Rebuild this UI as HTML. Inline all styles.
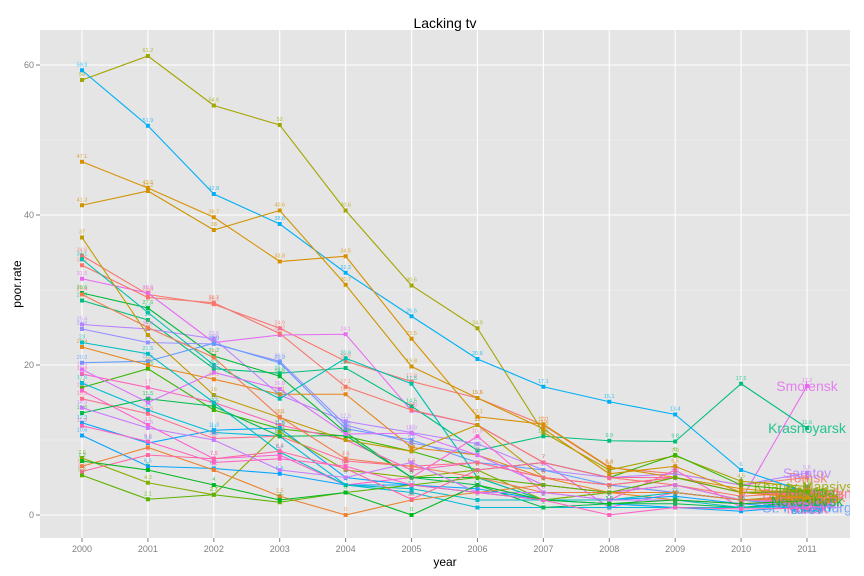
<!DOCTYPE html>
<html><head><meta charset="utf-8"><style>
body{margin:0;background:#fff;}
svg{display:block;font-family:"Liberation Sans",sans-serif;}
</style></head><body>
<svg id="chart" width="864" height="576">
<defs><clipPath id="pc"><rect x="40" y="30" width="810" height="508"/></clipPath></defs>
<rect x="40" y="30" width="810" height="508" fill="#E5E5E5"/>
<g id="grid"></g>
<g id="marks" clip-path="url(#pc)"></g>
<g id="axes"></g>
<text x="445" y="28" text-anchor="middle" font-size="14" fill="#000">Lacking tv</text>
<text x="445" y="566" text-anchor="middle" font-size="12" fill="#000">year</text>
<text x="21" y="284" text-anchor="middle" font-size="12" fill="#000" transform="rotate(-90 21 284)">poor.rate</text>
</svg>
<script>
const years = [2000,2001,2002,2003,2004,2005,2006,2007,2008,2009,2010,2011];
const yTicks = [0,20,40,60];
const regionNames = ["Tomsk","Smolensk","Krasnoyarsk","Saratov","Khanty-Mansiysk","Volgograd","Perm","Penza","Krasnodar","Tver","Moscow","Stavropol","St. Petersburg","Samara","Omsk","Kursk","Ryazan","Tula","Kaluga","Orel","Ulyanovsk","Rostov","Chelyabinsk","Kirov","Vologda","Altai","Tatarstan","Bashkortostan","Udmurtia","Chuvashia","Novosibirsk","Irkutsk","Kemerovo"];
const regionColors = ["#F8766D","#E76BF3","#00BF7D","#B983FF","#A3A500","#F8766D","#00B0F6","#39B600","#00BA38","#D89000","#FF62BC","#9590FF","#619CFF","#E7861B","#00C0AF","#FD61D1","#00A9FF","#00BCD8","#C09B00","#FF6C91","#85AD00","#00BB4E","#F17E4E","#06A4FF","#DC71FA","#00BFC4","#EA8331","#FF67A4","#5BB300","#C77CFF","#00B81F","#FF61C3","#CF9400"];
const seriesValues = [
 [34.6,29.4,28.1,24.9,20.5,17.8,15.6,12,6.3,5.5,4,5],
 [31.5,29.6,23,24,24.1,13.9,12,7,1,3,2,17.2],
 [28.6,26,19.5,18.9,19.6,14.5,8.6,10.5,9.9,9.8,17.5,11.6],
 [25.4,24.8,23.5,16,12.5,11,9.5,6,5,5.5,4,5.6],
 [58,61.2,54.6,52,40.6,30.6,24.9,11,6,7.9,4.5,3.8],
 [33.3,29,28.3,24.2,17.1,14,12,7,5,4,2.5,3],
 [59.3,51.9,42.8,38.8,32.3,26.5,20.8,17.1,15.1,13.4,6,3],
 [17,19.5,14,11.5,10.5,8.5,6,7,5,8,4,3.2],
 [29.6,27.6,21.2,18.5,11,5,5,2,3,3,2,2.5],
 [47.1,43.6,39.7,33.8,34.5,23.5,13.1,12.1,6.4,5,3.5,2.8],
 [18.8,17,15,12,10,6,7,5,4,3,2,2],
 [24.8,23,22.8,20.5,12,9.6,8,4,3,3,2,1.5],
 [20.3,20.5,22.9,20.3,11.5,10,7,6,4,3,2,1],
 [22.4,20,18.1,16.1,16.1,9,8,5,3,2,1.5,2],
 [34.1,27,20,15.5,20.9,17.5,5,2,2,3,2,2.2],
 [16.6,12,7.5,8,4,5,10.5,3,2,6,1,1.5],
 [12.3,9.6,11.3,11.6,5,4,3,2,1.5,1,0.5,1.2],
 [17.6,14,11,10.5,4,3,1,1,1,1,1,1.3],
 [37,24,16,13,10,8.5,12,5,4,5,3,3.3],
 [15.5,13.5,10.2,10.5,7.2,6.5,7,5,4,5,3,2.6],
 [7.6,4.3,2.7,11.1,6,5,6,2,3,4,2,2.7],
 [13.6,15.5,14.5,10.5,10.6,5,4,1,1.5,1.5,1,1.8],
 [29.4,25,21,13.1,7.5,6.5,5,3,3,4,2,2.4],
 [10.6,6.5,6.2,5.5,4,4,3.5,2,2,2.5,1.5,0.8],
 [19.4,15,19,16.8,10.8,10.9,8,4,3,4,2,1.7],
 [23,21.5,15,8.4,4,3.5,2,2,2,2,1,1.1],
 [6.5,9,6,2.5,0,2,3,4,3,3,2,2.1],
 [5.8,8,7.5,8.5,6.2,2.1,6,7,5,5,3,2.9],
 [5.3,2.1,2.7,1.7,3,4,5,4,3,5,3,3.1],
 [14.3,11.6,10,6,5,7,3,3,2,2,1.5,1.6],
 [7.2,6,4,2,3,0,4,2,1.5,2,1.5,1.9],
 [11.9,9.8,7,7.5,6.5,4,3,2,0,1,0.8,0.9],
 [41.3,43.2,38,40.6,30.7,19.8,15.6,11.5,5.5,6.5,3,2.3]
];
const X0=40,X1=850,Y0=30,Y1=538;
const xScale = yr => 82 + (yr-2000)*(807-82)/11;
const yScale = v => 515 - v*(515-65)/60;
const NS="http://www.w3.org/2000/svg";
function mk(tag,attrs,parent){const e=document.createElementNS(NS,tag);for(const k in attrs)e.setAttribute(k,attrs[k]);parent.appendChild(e);return e;}
const grid=document.getElementById('grid'),marks=document.getElementById('marks'),axes=document.getElementById('axes');
for(let v=10;v<=60;v+=20){const l=mk('line',{x1:X0,x2:X1,y1:yScale(v),y2:yScale(v),stroke:'#F2F2F2','stroke-width':0.6},grid);

}
yTicks.forEach(v=>{const y=yScale(v);
const l=mk('line',{x1:X0,x2:X1,y1:y,y2:y,stroke:'#fff','stroke-width':1.1},grid);


const tk=mk('line',{x1:X0-4,x2:X0,y1:y,y2:y,stroke:'#7F7F7F'},axes);


const t=mk('text',{x:X0-6,y:y+3,'text-anchor':'end','font-size':9,fill:'#7F7F7F'},axes);t.textContent=v;

});
years.forEach(yr=>{const x=xScale(yr);
const l=mk('line',{x1:x,x2:x,y1:Y0,y2:Y1,stroke:'#fff','stroke-width':1.1},grid);


const tk=mk('line',{x1:x,x2:x,y1:Y1,y2:Y1+4,stroke:'#7F7F7F'},axes);


const t=mk('text',{x:x,y:Y1+14,'text-anchor':'middle','font-size':9,fill:'#7F7F7F'},axes);t.textContent=yr;

});
seriesValues.forEach((vals,i)=>{
 const col=regionColors[i%regionColors.length];
 const g=mk('g',{},marks);
 
 
 const pts=[];vals.forEach((v,j)=>{if(v!=null)pts.push([xScale(years[j]),yScale(v),v]);});
 const p=mk('polyline',{points:pts.map(q=>q[0]+','+q[1]).join(' '),fill:'none',stroke:col,'stroke-width':1.1},g);
 
 
 pts.forEach(q=>{const r=mk('rect',{x:q[0]-2,y:q[1]-2,width:4,height:4,fill:col},g);
 
 
 const t=mk('text',{x:q[0],y:q[1]-4,'text-anchor':'middle','font-size':5.5,fill:col,opacity:0.75},g);t.textContent=q[2];
 
 });
 const last=pts[pts.length-1];
 const lt=mk('text',{x:last[0],y:last[1]+5,'text-anchor':'middle','font-size':14,fill:col,opacity:0.85},g);lt.textContent=regionNames[i];
 
 
});
</script>
</body></html>
